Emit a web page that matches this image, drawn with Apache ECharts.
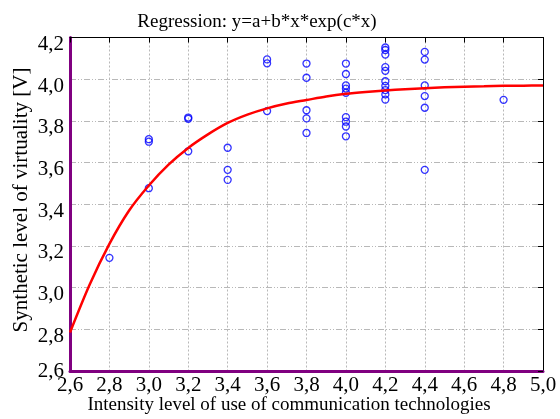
<!DOCTYPE html>
<html><head><meta charset="utf-8">
<script src="https://cdn.jsdelivr.net/npm/echarts@6/dist/echarts.min.js"></script>
<style>html,body{margin:0;padding:0;background:#fff}#c{width:560px;height:419px}</style>
</head><body><div id="c"></div>
<script>
const titleText = 'Regression: y=a+b*x*exp(c*x)';
const xName = 'Intensity level of use of communication technologies';
const yName = 'Synthetic level of virtuality [V]';
const xTickLabels = ['2,6','2,8','3,0','3,2','3,4','3,6','3,8','4,0','4,2','4,4','4,6','4,8','5,0'];
const yTickLabels = ['2,6','2,8','3,0','3,2','3,4','3,6','3,8','4,0','4,2'];
const obsX = [2.8,
  3.0,3.0,3.0,
  3.2,3.2,3.2,
  3.4,3.4,3.4,
  3.6,3.6,3.6,
  3.8,3.8,3.8,3.8,3.8,
  4.0,4.0,4.0,4.0,4.0,4.0,4.0,4.0,4.0,
  4.2,4.2,4.2,4.2,4.2,4.2,4.2,4.2,4.2,4.2,
  4.4,4.4,4.4,4.4,4.4,4.4,
  4.8];
const obsY = [3.143,
  3.712,3.700,3.477,
  3.816,3.810,3.654,
  3.671,3.565,3.517,
  4.095,4.076,3.847,
  4.075,4.007,3.851,3.812,3.742,
  4.075,4.025,3.970,3.955,3.935,3.818,3.796,3.773,3.726,
  4.152,4.140,4.118,4.058,4.040,3.990,3.968,3.948,3.927,3.902,
  4.131,4.094,3.970,3.919,3.863,3.565,
  3.901];
const curveX = [2.6,2.7,2.8,2.9,3.0,3.1,3.2,3.3,3.4,3.5,3.6,3.7,3.8,3.9,4.0,4.1,4.2,4.3,4.4,4.5,4.6,4.7,4.8,4.9,5.0];
const curveY = [2.785,3.015,3.21,3.37,3.49,3.59,3.67,3.735,3.79,3.83,3.86,3.883,3.90,3.917,3.93,3.939,3.946,3.952,3.957,3.961,3.964,3.966,3.968,3.969,3.970];

const FONT = '"Liberation Serif", "Times New Roman", serif';
const PURPLE = '#800080';
const GRIDC = '#b8b8b8';
const chart = echarts.init(document.getElementById('c'), null, {renderer: 'canvas'});
const X0 = 2.6, XS = 0.2, Y0 = 2.6, YS = 0.2;
chart.setOption({
  animation: false,
  backgroundColor: '#fff',
  grid: {left: 70, right: 17, top: 37.5, bottom: 48, containLabel: false},
  xAxis: [{
    type: 'value', min: 2.6, max: 5.0, interval: 0.2, position: 'bottom',
    axisLine: {show: true, onZero: false, lineStyle: {color: PURPLE, width: 3}},
    axisTick: {show: false},
    axisLabel: {show: true, margin: 4, fontFamily: FONT, fontSize: 21, color: '#000',
      formatter: v => xTickLabels[Math.round((v - X0) / XS)]},
    splitLine: {show: true, lineStyle: {color: GRIDC, width: 1, type: [2, 2]}}
  }, {
    type: 'value', min: 2.6, max: 5.0, interval: 0.2, position: 'top',
    axisLine: {show: true, onZero: false, lineStyle: {color: '#000', width: 1}},
    axisTick: {show: true, inside: true, length: 5, lineStyle: {color: '#000'}},
    axisLabel: {show: false}, splitLine: {show: false}
  }],
  yAxis: [{
    type: 'value', min: 2.6, max: 4.2, interval: 0.2, position: 'left',
    axisLine: {show: true, onZero: false, lineStyle: {color: PURPLE, width: 3}},
    axisTick: {show: false},
    axisLabel: {show: true, margin: 6, fontFamily: FONT, fontSize: 21, color: '#000',
      formatter: v => {
        const i = Math.round((v - Y0) / YS);
        return i === 0 ? '{m|' + yTickLabels[i] + '}' : '{d|' + yTickLabels[i] + '}';
      },
      rich: {
        d: {fontFamily: FONT, fontSize: 21, color: '#000', padding: [14, 0, 0, 0]},
        m: {fontFamily: FONT, fontSize: 21, color: '#000', padding: [0, 0, 0, 0]}
      }},
    splitLine: {show: true, lineStyle: {color: GRIDC, width: 1, type: [6, 2, 1, 2, 1, 2]}}
  }, {
    type: 'value', min: 2.6, max: 4.2, interval: 0.2, position: 'right',
    axisLine: {show: true, onZero: false, lineStyle: {color: '#000', width: 1}},
    axisTick: {show: true, inside: true, length: 5, lineStyle: {color: '#000'}},
    axisLabel: {show: false}, splitLine: {show: false}
  }],
  series: [{
    type: 'scatter', xAxisIndex: 0, yAxisIndex: 0, z: 3,
    symbol: 'circle', symbolSize: 7,
    itemStyle: {color: 'rgba(255,255,255,0)', borderColor: '#0000ff', borderWidth: 1.3},
    emphasis: {disabled: true},
    data: obsX.map((x, i) => [x, obsY[i]])
  }, {
    type: 'line', xAxisIndex: 0, yAxisIndex: 0, z: 4,
    showSymbol: false, smooth: 0.3,
    lineStyle: {color: '#ff0000', width: 2.5},
    emphasis: {disabled: true},
    data: curveX.map((x, i) => [x, curveY[i]])
  }],
  graphic: [
    {type: 'text', x: 257, y: 13, style: {text: titleText, fontFamily: FONT, fontSize: 19, fill: '#000', textAlign: 'center', textVerticalAlign: 'top'}},
    {type: 'text', x: 289, y: 396, style: {text: xName, fontFamily: FONT, fontSize: 19, fill: '#000', textAlign: 'center', textVerticalAlign: 'top'}},
    {type: 'text', x: 21, y: 200, rotation: Math.PI / 2, style: {text: yName, fontFamily: FONT, fontSize: 21, fill: '#000', textAlign: 'center', textVerticalAlign: 'middle'}}
  ]
});
</script>
</body></html>
